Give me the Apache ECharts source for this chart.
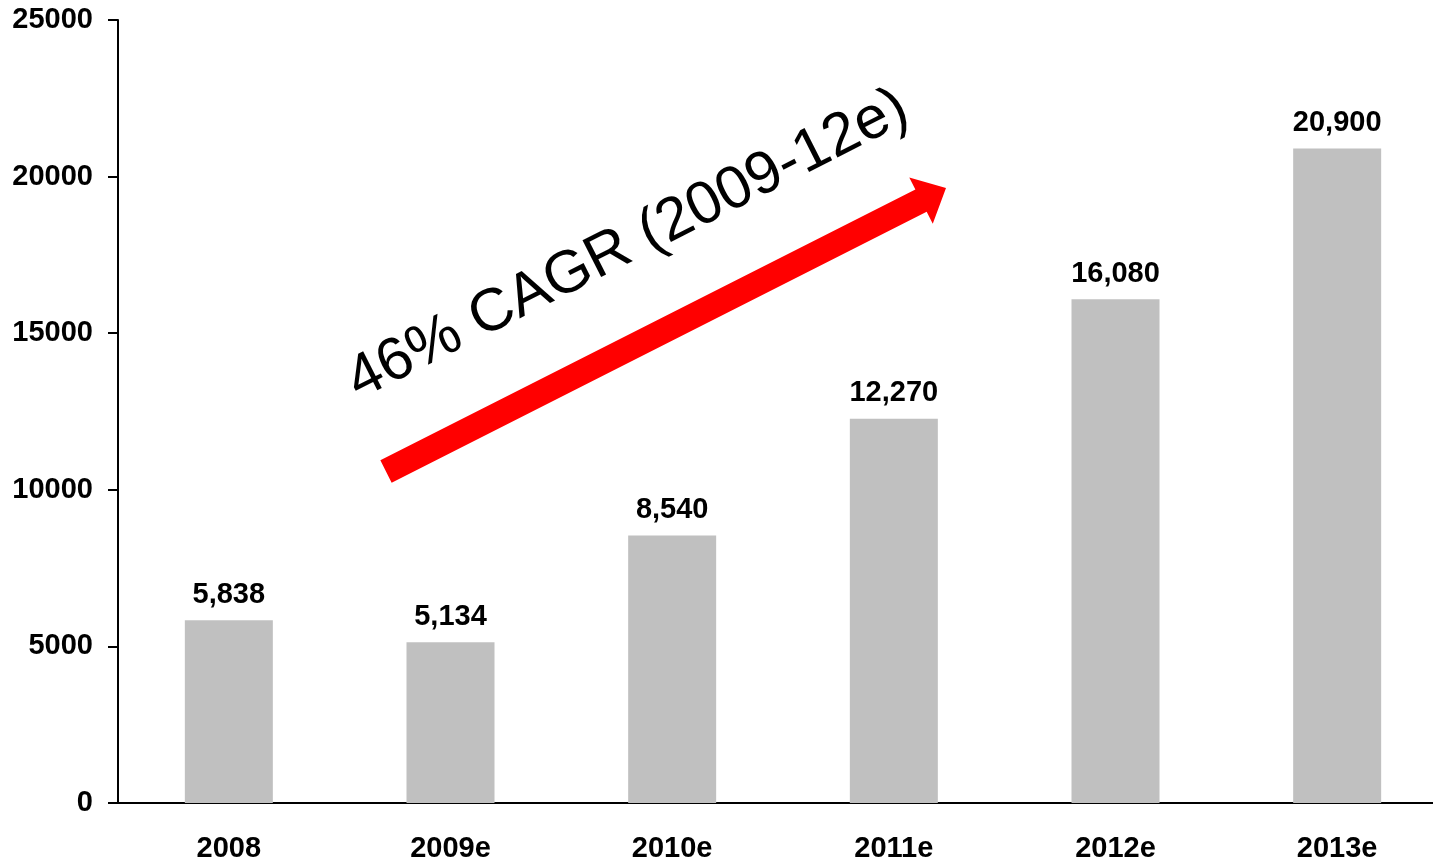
<!DOCTYPE html>
<html>
<head>
<meta charset="utf-8">
<script src="https://cdn.jsdelivr.net/npm/echarts@6/dist/echarts.min.js"></script>
<style>html,body{margin:0;padding:0;background:#fff;}#chart{width:1433px;height:864px;}</style>
</head>
<body>
<div id="chart"></div>
<script>
const categories = ['2008', '2009e', '2010e', '2011e', '2012e', '2013e'];
const values = [5838, 5134, 8540, 12270, 16080, 20900];
const yTicks = { min: 0, max: 25000, interval: 5000 };
const annotationText = '46% CAGR (2009-12e)';

const chart = echarts.init(document.getElementById('chart'));
const FONT = 'Liberation Sans, Arial, sans-serif';

// Arrow annotation geometry (annotation, not data)
const tail = [386, 471.5], tip = [946, 188];
const dx = tip[0] - tail[0], dy = tip[1] - tail[1];
const L = Math.sqrt(dx * dx + dy * dy);
const ang = Math.atan2(-dy, dx);
const hw = 12.5, headL = 28, headW = 26;

chart.setOption({
  animation: false,
  backgroundColor: '#ffffff',
  grid: { left: 118, width: 1330, top: 20, bottom: 61, containLabel: false, outerBoundsMode: 'none' },
  xAxis: {
    type: 'category',
    data: categories,
    axisLine: { show: true, lineStyle: { color: '#000', width: 2 } },
    axisTick: { show: false },
    axisLabel: { color: '#000', fontFamily: FONT, fontWeight: 'bold', fontSize: 29, margin: 31 },
    splitLine: { show: false }
  },
  yAxis: {
    type: 'value',
    min: yTicks.min, max: yTicks.max, interval: yTicks.interval,
    axisLine: { show: true, lineStyle: { color: '#000', width: 2 } },
    axisTick: { show: true, length: 10, inside: false, lineStyle: { color: '#000', width: 2 } },
    axisLabel: { color: '#000', fontFamily: FONT, fontWeight: 'bold', fontSize: 29, margin: 25, formatter: v => String(v) },
    splitLine: { show: false }
  },
  series: [{
    type: 'bar',
    data: values,
    barWidth: 88,
    itemStyle: { color: '#c0c0c0' },
    label: {
      show: true,
      position: 'top',
      distance: 11,
      color: '#000',
      fontFamily: FONT,
      fontWeight: 'bold',
      fontSize: 29,
      formatter: p => p.value.toLocaleString('en-US')
    }
  }],
  graphic: [
    {
      type: 'polygon',
      x: tail[0], y: tail[1],
      rotation: ang,
      shape: {
        points: [[0, -hw], [L - headL, -hw], [L - headL, -headW], [L, 0], [L - headL, headW], [L - headL, hw], [0, hw]]
      },
      style: { fill: '#ff0000' },
      z: 10
    },
    {
      type: 'text',
      x: 628, y: 245,
      rotation: ang,
      style: {
        text: annotationText,
        fill: '#000',
        font: 'normal 60px ' + FONT,
        textAlign: 'center',
        textVerticalAlign: 'middle'
      },
      z: 10
    }
  ]
});
</script>
</body>
</html>
